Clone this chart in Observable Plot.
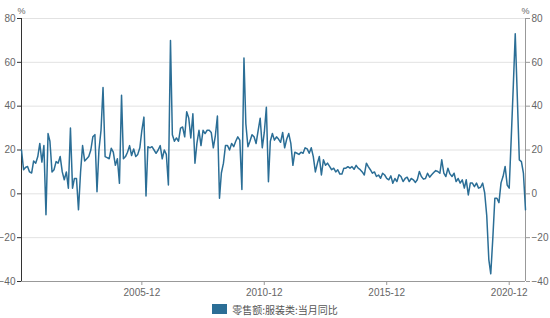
<!DOCTYPE html>
<html><head><meta charset="utf-8">
<script src="https://cdn.jsdelivr.net/npm/d3@7"></script>
<script src="https://cdn.jsdelivr.net/npm/@observablehq/plot@0.6"></script>
<style>
body{margin:0;background:#fff;font-family:"Noto Sans CJK SC","Liberation Sans",sans-serif;}
#legend{height:18px;display:flex;justify-content:center;align-items:center;font-size:10px;color:#555;}
#legend .sw{width:15px;height:10px;background:#2b6e96;margin-right:5px;}
</style></head><body>
<div id="chart"></div>
<div id="legend"><span class="sw"></span><span id="lt"></span></div>
<script>
const seriesName = "零售额:服装类:当月同比";
const startMonth = "2001-01";
const values = [
 20, 11, 12, 12.5, 10, 9.5, 15, 14, 17, 23, 14.5, 22,
 -9.5, 27.5, 24, 10, 11, 14.7, 14, 17, 10, 6.4, 10, 2.6,
 30, 2.6, 7, 7, -7.3, 10, 22, 15, 16, 17, 20, 26,
 27, 1, 20, 29, 48.5, 17, 16.5, 16, 20.8, 19, 13, 16,
 4.8, 45, 16, 17, 19, 22, 17.5, 20.5, 17, 18, 21, 29,
 35, -1, 21.5, 21, 21.5, 20, 18.5, 20, 22, 16, 20, 18,
 4, 70, 27, 24, 25.5, 24, 30, 30.5, 26, 37.5, 34.5, 25.5,
 36.5, 14, 23, 29, 22, 29, 27.5, 29, 29, 28, 21, 26.5,
 35.5, -2, 9.5, 14, 22, 22, 20, 23, 21.5, 24, 26, 24.5,
 2, 62, 32, 21.5, 24, 27, 26, 23, 29, 34.5, 21, 28,
 39.5, 5.5, 24, 27.5, 24.5, 26, 25, 23.5, 28, 21, 25, 27.5,
 23, 13, 19, 18.5, 18, 19, 18.5, 21, 20.5, 18.5, 21, 17,
 10, 14, 17, 8.6, 15.5, 13, 14, 12.5, 11, 11.7, 10, 11,
 9, 9, 11.7, 11.7, 12.4, 11.7, 12.4, 11.2, 13, 11.7, 11, 10,
 8.6, 14, 12.4, 11, 9.4, 10, 7.9, 8.6, 7.1, 9.4, 8.6, 7.1,
 6.4, 8.2, 4.8, 7, 5.6, 8.7, 7.9, 5.6, 7, 7.6, 5.6, 7,
 6.4, 5.2, 6.4, 10.2, 7.9, 6.7, 7, 9.4, 7.6, 8.7, 9.7, 10.6,
 10.2, 9.4, 15.5, 9.4, 7.9, 11.7, 9.1, 7.9, 9.4, 5.6, 7, 4.9,
 6.4, 2.6, 6.4, -0.5, 4.9, 4.9, 3.3, 4.9, 2.6, 3, 4.9, 0.5,
 -10, -30, -36.5, -20, -2, -2, -4, 5, 8, 12.5, 4, 2.6,
 26, 50, 73, 44, 15.5, 14.7, 9.4, -7.3
];
const xTickLabels = ["2005-12", "2010-12", "2015-12", "2020-12"];
const yTicks = [-40, -20, 0, 20, 40, 60, 80];
const unitLabel = "%";

const parse = d3.utcParse("%Y-%m");
const t0 = parse(startMonth);
const data = values.map((v, i) => ({date: d3.utcMonth.offset(t0, i), value: v}));
const xTicks = xTickLabels.map(parse);
const x0 = data[0].date, x1 = data[data.length - 1].date;

const plot = Plot.plot({
  width: 550, height: 300,
  marginLeft: 21, marginRight: 25, marginTop: 18, marginBottom: 19,
  style: {fontFamily: "'Liberation Sans', Arial, sans-serif", fontSize: "10px", color: "#666", background: "#fff", overflow: "visible"},
  x: {type: "utc", domain: [x0, x1]},
  y: {domain: [-40, 80]},
  marks: [
    Plot.gridY(yTicks, {stroke: "#e2e2e2", strokeOpacity: 1}),
    Plot.axisY(yTicks, {anchor: "left", tickSize: 4, tickPadding: 2, label: null, stroke: "#333", fill: "#666"}),
    Plot.axisY(yTicks, {anchor: "right", tickSize: 4, tickPadding: 2, label: null, stroke: "#999", fill: "#666"}),
    Plot.axisX(xTicks, {tickFormat: d3.utcFormat("%Y-%m"), tickSize: 4, tickPadding: 3, label: null, stroke: "#999", fill: "#666"}),
    Plot.ruleY([-40], {stroke: "#999"}),
    Plot.ruleX([x1], {stroke: "#999"}),
    Plot.ruleX([x0], {stroke: "#333"}),
    Plot.lineY(data, {x: "date", y: "value", stroke: "#2b6e96", strokeWidth: 1.5}),
    Plot.text([unitLabel], {frameAnchor: "top-left", textAnchor: "middle", dy: -11, fontSize: 9, fill: "#666"}),
    Plot.text([unitLabel], {frameAnchor: "top-right", textAnchor: "middle", dy: -11, fontSize: 9, fill: "#666"})
  ]
});
document.getElementById("chart").appendChild(plot);
document.getElementById("lt").textContent = seriesName;
</script>
</body></html>
